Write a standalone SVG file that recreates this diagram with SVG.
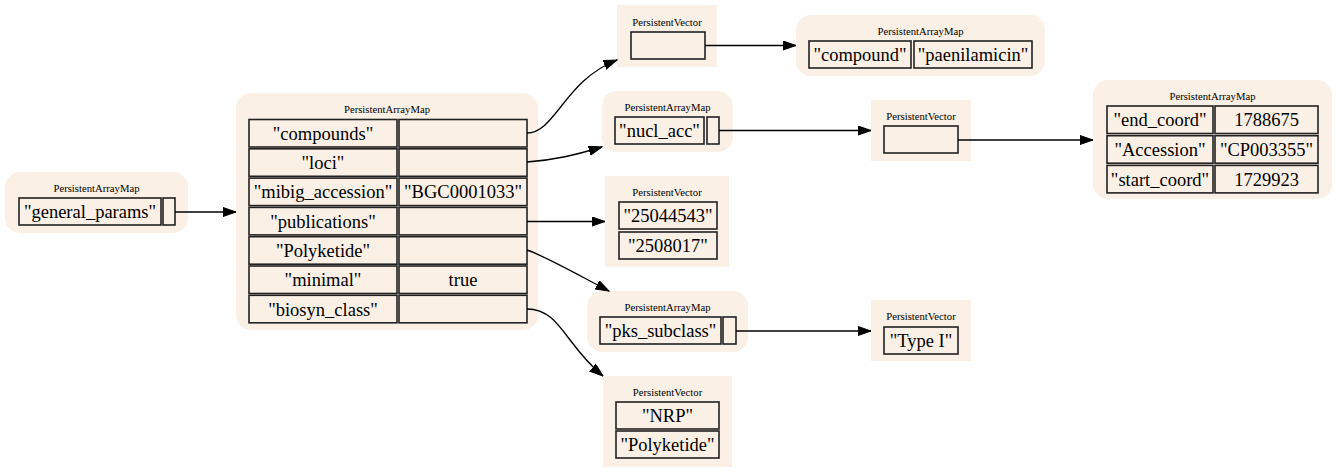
<svg xmlns="http://www.w3.org/2000/svg" width="1336" height="472" viewBox="0 0 1336 472">
<defs>
<style>
.bg{fill:#faf0e6;stroke:none}
.cell{fill:#faf0e6;stroke:#222;stroke-width:1.6}
.t{font-family:"Liberation Serif","Times New Roman",serif;font-size:18.5px;fill:#000;text-anchor:middle}
.h{font-family:"Liberation Serif","Times New Roman",serif;font-size:10.7px;fill:#000;text-anchor:middle}
.e{fill:none;stroke:#000;stroke-width:1.33;marker-end:url(#arr)}
</style>
<marker id="arr" markerUnits="userSpaceOnUse" markerWidth="14" markerHeight="10" refX="13.3" refY="4.65" orient="auto" viewBox="0 0 14 10">
<path d="M0,0 L13.3,4.65 L0,9.3 z" fill="#000" stroke="#000" stroke-width="1"/>
</marker>
</defs>
<rect width="1336" height="472" fill="#fff"/>
<g id="n0">
<rect class="bg" x="5" y="172" width="183" height="61" rx="15"/>
<text class="h" x="96.5" y="191.5">PersistentArrayMap</text>
<rect class="cell" x="19" y="198" width="142" height="27"/>
<rect class="cell" x="163" y="198" width="12" height="27"/>
<text class="t" x="90" y="218">"general_params"</text>
</g>
<g id="n1">
<rect class="bg" x="236" y="93" width="302" height="237" rx="15"/>
<text class="h" x="387" y="113">PersistentArrayMap</text>
<rect class="cell" x="249" y="119.5" width="148" height="27.5"/>
<rect class="cell" x="399" y="119.5" width="128" height="27.5"/>
<rect class="cell" x="249" y="148.8" width="148" height="27.5"/>
<rect class="cell" x="399" y="148.8" width="128" height="27.5"/>
<rect class="cell" x="249" y="178.1" width="148" height="27.5"/>
<rect class="cell" x="399" y="178.1" width="128" height="27.5"/>
<rect class="cell" x="249" y="207.4" width="148" height="27.5"/>
<rect class="cell" x="399" y="207.4" width="128" height="27.5"/>
<rect class="cell" x="249" y="236.7" width="148" height="27.5"/>
<rect class="cell" x="399" y="236.7" width="128" height="27.5"/>
<rect class="cell" x="249" y="266" width="148" height="27.5"/>
<rect class="cell" x="399" y="266" width="128" height="27.5"/>
<rect class="cell" x="249" y="295.3" width="148" height="27.5"/>
<rect class="cell" x="399" y="295.3" width="128" height="27.5"/>
<text class="t" x="323" y="139.8">"compounds"</text>
<text class="t" x="323" y="169.1">"loci"</text>
<text class="t" x="323" y="198.4">"mibig_accession"</text>
<text class="t" x="463" y="198.4">"BGC0001033"</text>
<text class="t" x="323" y="227.7">"publications"</text>
<text class="t" x="323" y="257">"Polyketide"</text>
<text class="t" x="323" y="286.3">"minimal"</text>
<text class="t" x="463" y="286.3">true</text>
<text class="t" x="323" y="315.6">"biosyn_class"</text>
</g>
<g id="n2">
<rect class="bg" x="617" y="5" width="100" height="62"/>
<text class="h" x="667" y="25.5">PersistentVector</text>
<rect class="cell" x="631" y="32" width="74" height="27"/>
</g>
<g id="n3">
<rect class="bg" x="796" y="15" width="249" height="61" rx="15"/>
<text class="h" x="920.5" y="34.5">PersistentArrayMap</text>
<rect class="cell" x="809" y="41" width="102" height="27"/>
<rect class="cell" x="914" y="41" width="118" height="27"/>
<text class="t" x="860" y="61">"compound"</text>
<text class="t" x="973" y="61">"paenilamicin"</text>
</g>
<g id="n4">
<rect class="bg" x="602" y="91" width="131" height="61" rx="15"/>
<text class="h" x="667.5" y="110.5">PersistentArrayMap</text>
<rect class="cell" x="615" y="117" width="89" height="27"/>
<rect class="cell" x="707" y="117" width="12" height="27"/>
<text class="t" x="659.5" y="137">"nucl_acc"</text>
</g>
<g id="n5">
<rect class="bg" x="871" y="100" width="100" height="61"/>
<text class="h" x="921" y="120">PersistentVector</text>
<rect class="cell" x="884" y="126" width="74" height="27"/>
</g>
<g id="n6">
<rect class="bg" x="1093" y="80" width="239" height="119" rx="15"/>
<text class="h" x="1212.5" y="100">PersistentArrayMap</text>
<rect class="cell" x="1107" y="106" width="106" height="27.5"/>
<rect class="cell" x="1215" y="106" width="103" height="27.5"/>
<rect class="cell" x="1107" y="135.7" width="106" height="27.5"/>
<rect class="cell" x="1215" y="135.7" width="103" height="27.5"/>
<rect class="cell" x="1107" y="165.4" width="106" height="27.5"/>
<rect class="cell" x="1215" y="165.4" width="103" height="27.5"/>
<text class="t" x="1160" y="126.3">"end_coord"</text>
<text class="t" x="1266.5" y="126.3">1788675</text>
<text class="t" x="1160" y="156">"Accession"</text>
<text class="t" x="1266.5" y="156">"CP003355"</text>
<text class="t" x="1160" y="185.7">"start_coord"</text>
<text class="t" x="1266.5" y="185.7">1729923</text>
</g>
<g id="n7">
<rect class="bg" x="605" y="176" width="124" height="91"/>
<text class="h" x="667" y="195.5">PersistentVector</text>
<rect class="cell" x="619" y="202" width="98" height="27"/>
<rect class="cell" x="619" y="232" width="98" height="27"/>
<text class="t" x="668" y="222">"25044543"</text>
<text class="t" x="668" y="252">"2508017"</text>
</g>
<g id="n8">
<rect class="bg" x="587" y="291" width="161" height="61" rx="15"/>
<text class="h" x="667.5" y="310.5">PersistentArrayMap</text>
<rect class="cell" x="600" y="317" width="121" height="27"/>
<rect class="cell" x="723" y="317" width="13" height="27"/>
<text class="t" x="660.5" y="337">"pks_subclass"</text>
</g>
<g id="n9">
<rect class="bg" x="871" y="300" width="100" height="61"/>
<text class="h" x="921" y="320">PersistentVector</text>
<rect class="cell" x="884" y="327" width="74" height="27"/>
<text class="t" x="921" y="347">"Type I"</text>
</g>
<g id="n10">
<rect class="bg" x="603" y="376" width="129" height="91"/>
<text class="h" x="667.5" y="395.5">PersistentVector</text>
<rect class="cell" x="616" y="402" width="103" height="27"/>
<rect class="cell" x="616" y="431" width="103" height="27"/>
<text class="t" x="667.5" y="422">"NRP"</text>
<text class="t" x="667.5" y="451">"Polyketide"</text>
</g>
<g id="connectors">
<path class="e" d="M175,212 L236,212"/>
<path class="e" d="M527,133 C555,133 565,80 617,60"/>
<path class="e" d="M527,162 C555,160 575,155 602,147"/>
<path class="e" d="M527,221.5 L605,221.5"/>
<path class="e" d="M527,250 C545,256 580,276 609,291"/>
<path class="e" d="M527,309 C560,309 565,345 603,376"/>
<path class="e" d="M705,45.5 L796,45.5"/>
<path class="e" d="M719,130.5 L871,130.5"/>
<path class="e" d="M958,140 L1093,140"/>
<path class="e" d="M736,331 L871,331"/>
</g>
</svg>
